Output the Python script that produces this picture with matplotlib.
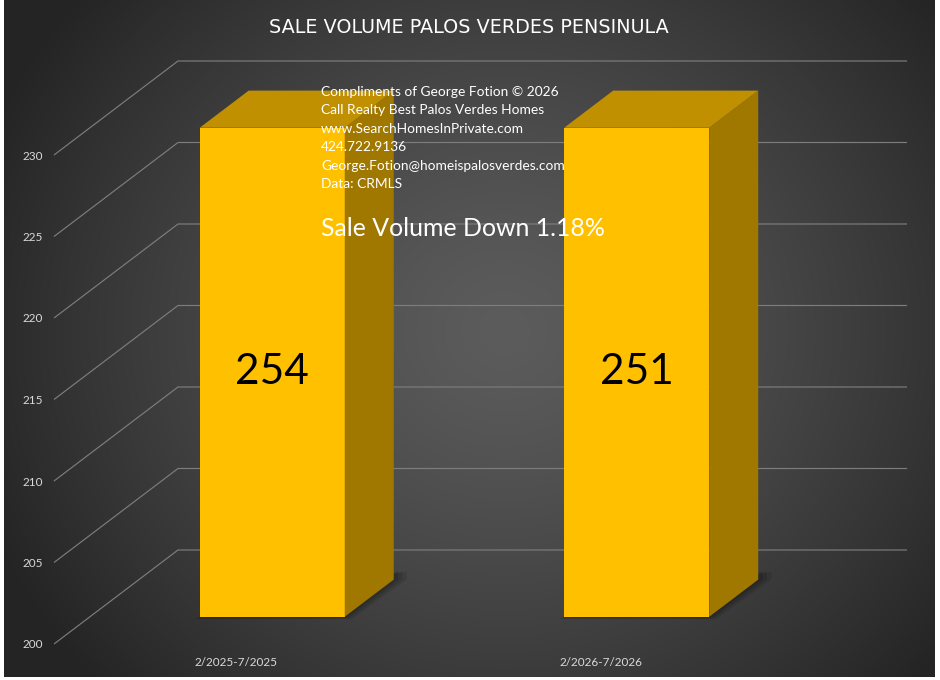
import numpy as np
import matplotlib
matplotlib.use("Agg")
import matplotlib.pyplot as plt

# ---- data ----
categories = ["2/2025-7/2025", "2/2026-7/2026"]
sale_volume = [254, 251]
y_ticks = [200, 205, 210, 215, 220, 225, 230]
title = "SALE VOLUME PALOS VERDES PENSINULA"
info_lines = ["Compliments of George Fotion \u00a9 2026",
              "Call Realty Best Palos Verdes Homes",
              "www.SearchHomesInPrivate.com",
              "424.722.9136",
              "George.Fotion@homeispalosverdes.com",
              "Data: CRMLS"]
headline = "Sale Volume Down 1.18%"

plt.rcParams['font.family'] = ['Lato', 'DejaVu Sans']

W, H = 940, 680
fig = plt.figure(figsize=(W / 100, H / 100), dpi=100, facecolor='white')

# background radial gradient
bg = fig.add_axes([4 / W, 3 / H, 931 / W, 677 / H])
yy, xx = np.mgrid[0:677, 0:931]
cx, cy = 500, 330
r = np.sqrt(((xx - cx) / 560.0) ** 2 + ((yy - cy) / 520.0) ** 2)
r = np.clip(r, 0, 1)
c_in, c_out = 92, 36
val = (c_in - (c_in - c_out) * r ** 1.3) / 255.0
bg.imshow(np.dstack([val, val, val]), aspect='auto', extent=[0, 1, 0, 1])
bg.set_axis_off()

# main axes = front plane of the 3D box
x0, y0, pw, ph = 54, 644, 729, 489
ax = fig.add_axes([x0 / W, (H - y0) / H, pw / W, ph / H])
ax.patch.set_alpha(0)
ymin, ymax = y_ticks[0], y_ticks[-1]
ncat = len(categories)
ax.set_xlim(0, ncat)
ax.set_ylim(ymin, ymax)
for s in ax.spines.values():
    s.set_visible(False)

# depth offsets (full depth of the chart box) in data units
DX = 124 / (pw / ncat)
DY = 94 / (ph / (ymax - ymin))

grid_col = '#7d7d7d'
for v in y_ticks:
    ax.plot([0, DX, ncat + DX], [v, v + DY, v + DY], color=grid_col,
            lw=0.85, clip_on=False, zorder=1, solid_capstyle='butt')

ax.set_yticks(y_ticks)
ax.set_yticklabels([str(t) for t in y_ticks])
ax.set_xticks(np.arange(ncat) + 0.5)
ax.set_xticklabels(categories)
ax.tick_params(axis='both', length=0, colors='#d9d9d9', labelsize=8.5)
ax.tick_params(axis='y', pad=8)
ax.tick_params(axis='x', pad=9)

# bars
d0, d1 = 0.29, 0.685
bw = 0.398
front_c, top_c, side_c = '#FFC000', '#C09000', '#A07800'
for i, v in enumerate(sale_volume):
    top = min(v, ymax)
    xc = i + 0.5 + d0 * DX
    xl, xr = xc - bw / 2, xc + bw / 2
    yb, yt = ymin + d0 * DY, top + d0 * DY
    ddx, ddy = (d1 - d0) * DX, (d1 - d0) * DY
    # soft shadow
    for k, a in enumerate([0.10, 0.10, 0.12]):
        o = 0.006 * (3 - k)
        ax.fill([xl - o, xr + o, xr + ddx + o * 2, xr + ddx + o * 2],
                [yb - o * 8, yb - o * 8, yb + ddy, yb + ddy + 0.5],
                color='black', alpha=a, lw=0, clip_on=False, zorder=2)
    ax.bar(xc, top - ymin, bottom=yb, width=bw, color=front_c, lw=0,
           clip_on=False, zorder=3)
    ax.fill([xr, xr + ddx, xr + ddx, xr], [yb, yb + ddy, yt + ddy, yt],
            color=side_c, lw=0, clip_on=False, zorder=3)
    ax.fill([xl, xr, xr + ddx, xl + ddx], [yt, yt, yt + ddy, yt + ddy],
            color=top_c, lw=0, clip_on=False, zorder=3)
    ax.text(xc, (yb + yt) / 2, str(v), ha='center', va='center',
            fontsize=30.5, color='black', zorder=5, clip_on=False)

# title
fig.text(469 / W, 1 - 27.5 / H, title, ha='center', va='center',
         fontsize=13.8, color='white', family=['DejaVu Sans'])

# annotation text
for j, line in enumerate(info_lines):
    fig.text(321 / W, 1 - (92 + 18.4 * j) / H, line, ha='left', va='center',
             fontsize=9.95, color='white', zorder=10)
fig.text(321 / W, 1 - 229 / H, headline, ha='left', va='center',
         fontsize=17.9, color='white', zorder=10)

fig.savefig('out.png', dpi=100, facecolor='white')
